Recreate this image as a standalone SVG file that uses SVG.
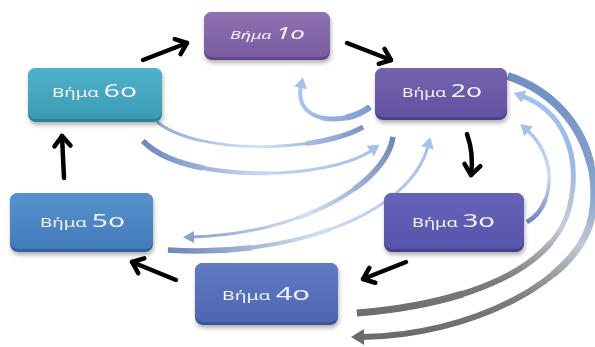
<svg xmlns="http://www.w3.org/2000/svg" xmlns:xlink="http://www.w3.org/1999/xlink" width="595" height="347" viewBox="0 0 595 347">
<style>
.lbl{font-family:"Noto Sans","Liberation Sans",sans-serif;fill:#f2f2f5}
.sm{font-size:12px}
.bg{font-size:18px}
.blk{fill:none;stroke:#000;stroke-width:4.5;stroke-linecap:round;marker-end:url(#chev)}
.L1{stroke-dasharray:28 1000}
.L2{stroke-dasharray:55 1000}
.arc{fill:none}
</style>
<defs>
<filter id="sh" x="-20%" y="-20%" width="140%" height="160%">
<feDropShadow dx="1" dy="3" stdDeviation="2" flood-color="#000" flood-opacity="0.3"/>
</filter>
<marker id="chev" markerUnits="userSpaceOnUse" markerWidth="30" markerHeight="30" viewBox="-15 -15 30 30" refX="0" refY="0" orient="auto" overflow="visible">
<path d="M-10,-8 L0,0 L-10,8" fill="none" stroke="#000" stroke-width="4.5" stroke-linecap="round" stroke-linejoin="round"/>
</marker>
<marker id="hL" markerUnits="userSpaceOnUse" markerWidth="24" markerHeight="24" viewBox="-12 -12 24 24" refX="0" refY="0" orient="auto" overflow="visible">
<path d="M-2,-6.5 L9,0 L-2,6.5 Z" fill="#a4c2ec"/>
</marker>
<marker id="hM" markerUnits="userSpaceOnUse" markerWidth="24" markerHeight="24" viewBox="-12 -12 24 24" refX="0" refY="0" orient="auto" overflow="visible">
<path d="M-2,-6 L9,0 L-2,6 Z" fill="#8aa2cc"/>
</marker>
<marker id="hG" markerUnits="userSpaceOnUse" markerWidth="24" markerHeight="24" viewBox="-12 -12 24 24" refX="0" refY="0" orient="auto" overflow="visible">
<path d="M-2,-8 L11,0 L-2,8 Z" fill="#6b6b6b"/>
</marker>
<linearGradient id="g1" gradientUnits="userSpaceOnUse" x1="370" y1="107" x2="301" y2="86"><stop offset="0" stop-color="#7f9dd0"/><stop offset="1" stop-color="#a8c7f0"/></linearGradient>
<linearGradient id="g2" gradientUnits="userSpaceOnUse" x1="363" y1="127" x2="157" y2="122"><stop offset="0" stop-color="#7a94c8"/><stop offset="0.5" stop-color="#d6e2f4"/><stop offset="1" stop-color="#8eaada"/></linearGradient>
<linearGradient id="g3" gradientUnits="userSpaceOnUse" x1="143" y1="141" x2="372" y2="150"><stop offset="0" stop-color="#6f86c0"/><stop offset="0.5" stop-color="#c6d6f0"/><stop offset="1" stop-color="#a4c2ec"/></linearGradient>
<linearGradient id="g4" gradientUnits="userSpaceOnUse" x1="393" y1="137" x2="192" y2="237"><stop offset="0" stop-color="#6f88bb"/><stop offset="0.5" stop-color="#d4dff0"/><stop offset="1" stop-color="#8aa2cc"/></linearGradient>
<linearGradient id="g5" gradientUnits="userSpaceOnUse" x1="168" y1="250" x2="428" y2="146"><stop offset="0" stop-color="#6e84b8"/><stop offset="0.5" stop-color="#d0ddf0"/><stop offset="1" stop-color="#a4c2ec"/></linearGradient>
<linearGradient id="g6" gradientUnits="userSpaceOnUse" x1="0" y1="76" x2="0" y2="337"><stop offset="0" stop-color="#7090c4"/><stop offset="0.45" stop-color="#88a4d0"/><stop offset="0.65" stop-color="#c2c8d4"/><stop offset="0.85" stop-color="#7e7e7e"/><stop offset="1" stop-color="#6b6b6b"/></linearGradient>
<linearGradient id="g7" gradientUnits="userSpaceOnUse" x1="0" y1="313" x2="0" y2="96"><stop offset="0" stop-color="#6e6e6e"/><stop offset="0.15" stop-color="#7c7c7c"/><stop offset="0.4" stop-color="#c6ccd8"/><stop offset="0.7" stop-color="#9ab8e4"/><stop offset="1" stop-color="#a4c2ec"/></linearGradient>
<linearGradient id="g8" gradientUnits="userSpaceOnUse" x1="0" y1="222" x2="0" y2="130"><stop offset="0" stop-color="#6a85bf"/><stop offset="0.5" stop-color="#d0dcef"/><stop offset="1" stop-color="#a6c4ee"/></linearGradient>
<linearGradient id="b1" x1="0" y1="0" x2="0" y2="1"><stop offset="0" stop-color="#9072b2"/><stop offset="1" stop-color="#7a5ca2"/></linearGradient>
<linearGradient id="b2" x1="0" y1="0" x2="0" y2="1"><stop offset="0" stop-color="#7463ae"/><stop offset="1" stop-color="#6352a0"/></linearGradient>
<linearGradient id="b3" x1="0" y1="0" x2="0" y2="1"><stop offset="0" stop-color="#6864ba"/><stop offset="1" stop-color="#5653aa"/></linearGradient>
<linearGradient id="b4" x1="0" y1="0" x2="0" y2="1"><stop offset="0" stop-color="#607bc4"/><stop offset="1" stop-color="#4e66b2"/></linearGradient>
<linearGradient id="b5" x1="0" y1="0" x2="0" y2="1"><stop offset="0" stop-color="#5693cd"/><stop offset="1" stop-color="#437aba"/></linearGradient>
<linearGradient id="b6" x1="0" y1="0" x2="0" y2="1"><stop offset="0" stop-color="#50b3ca"/><stop offset="1" stop-color="#3a9ab4"/></linearGradient>
<path id="p1" pathLength="100" d="M370,107 C342,128 293,122 301,86"/>
<path id="p2" pathLength="100" d="M363,127 C320,152 200,156 157,122"/>
<path id="p3" pathLength="100" d="M143,141 C185,185 330,180 372,150"/>
<path id="p4" pathLength="100" d="M393,137 C385,185 300,234 192,237"/>
<path id="p5" pathLength="100" d="M168,250 C290,258 410,215 428,146"/>
<path id="p6" pathLength="100" d="M508,76 C574,98 602,160 592,215 C582,280 470,336 362,337"/>
<path id="p7" pathLength="100" d="M357,313 C460,305 555,272 570,205 C582,150 560,110 522,96"/>
<path id="p8" pathLength="100" d="M527,222 C553,208 560,160 527,130"/>
</defs>
<rect width="595" height="347" fill="#ffffff"/>
<g id="connectors">
<g class="arc" stroke="url(#g1)"><use xlink:href="#p1" class="L1" stroke-width="6.5"/><use xlink:href="#p1" class="L2" stroke-width="5"/><use xlink:href="#p1" stroke-width="4" marker-end="url(#hL)"/></g>
<g class="arc" stroke="url(#g2)"><use xlink:href="#p2" class="L1" stroke-width="5"/><use xlink:href="#p2" stroke-width="3"/></g>
<g class="arc" stroke="url(#g3)"><use xlink:href="#p3" class="L1" stroke-width="5.5"/><use xlink:href="#p3" class="L2" stroke-width="4"/><use xlink:href="#p3" stroke-width="3" marker-end="url(#hL)"/></g>
<g class="arc" stroke="url(#g4)"><use xlink:href="#p4" class="L1" stroke-width="5.5"/><use xlink:href="#p4" class="L2" stroke-width="4"/><use xlink:href="#p4" stroke-width="3" marker-end="url(#hM)"/></g>
<g class="arc" stroke="url(#g5)"><use xlink:href="#p5" class="L1" stroke-width="5.5"/><use xlink:href="#p5" class="L2" stroke-width="4"/><use xlink:href="#p5" stroke-width="3" marker-end="url(#hL)"/></g>
<g class="arc" stroke="url(#g6)"><use xlink:href="#p6" class="L1" stroke-width="8"/><use xlink:href="#p6" class="L2" stroke-width="7"/><use xlink:href="#p6" stroke-width="6" marker-end="url(#hG)"/></g>
<g class="arc" stroke="url(#g7)"><use xlink:href="#p7" class="L1" stroke-width="7"/><use xlink:href="#p7" class="L2" stroke-width="6"/><use xlink:href="#p7" stroke-width="5" marker-end="url(#hL)"/></g>
<g class="arc" stroke="url(#g8)"><use xlink:href="#p8" class="L1" stroke-width="4.5"/><use xlink:href="#p8" stroke-width="3.5" marker-end="url(#hL)"/></g>
<path class="blk" d="M143,60 L187,43"/>
<path class="blk" d="M347,43 L391,60"/>
<path class="blk" d="M467,134 Q474,154 471,175"/>
<path class="blk" d="M406,262 L363,279"/>
<path class="blk" d="M176,280 L132,262"/>
<path class="blk" d="M64,178 L62,136"/>
</g>
<g id="step1" filter="url(#sh)">
<rect x="204" y="12" width="126" height="48" rx="8" fill="#624789"/>
<rect x="204" y="12" width="126" height="45" rx="8" fill="url(#b1)"/>
<text class="lbl" x="230" y="39" font-style="italic" textLength="75" lengthAdjust="spacingAndGlyphs"><tspan font-size="11px">Βήμα </tspan><tspan font-size="16px">1ο</tspan></text>
</g>
<g id="step2" filter="url(#sh)">
<rect x="375" y="68" width="132" height="52" rx="8" fill="#4f3f86"/>
<rect x="375" y="68" width="132" height="49" rx="8" fill="url(#b2)"/>
<text class="lbl" x="402" y="97" textLength="80" lengthAdjust="spacingAndGlyphs"><tspan class="sm">Βήμα </tspan><tspan class="bg">2ο</tspan></text>
</g>
<g id="step3" filter="url(#sh)">
<rect x="384" y="193" width="140" height="59" rx="8" fill="#43408e"/>
<rect x="384" y="193" width="140" height="56" rx="8" fill="url(#b3)"/>
<text class="lbl" x="412" y="227" textLength="83" lengthAdjust="spacingAndGlyphs"><tspan class="sm">Βήμα </tspan><tspan class="bg">3ο</tspan></text>
</g>
<g id="step4" filter="url(#sh)">
<rect x="195" y="263" width="143" height="62" rx="8" fill="#3d5296"/>
<rect x="195" y="263" width="143" height="59" rx="8" fill="url(#b4)"/>
<text class="lbl" x="222" y="300" textLength="88" lengthAdjust="spacingAndGlyphs"><tspan class="sm">Βήμα </tspan><tspan class="bg">4ο</tspan></text>
</g>
<g id="step5" filter="url(#sh)">
<rect x="10" y="193" width="143" height="59" rx="8" fill="#33629c"/>
<rect x="10" y="193" width="143" height="56" rx="8" fill="url(#b5)"/>
<text class="lbl" x="40" y="227" textLength="85" lengthAdjust="spacingAndGlyphs"><tspan class="sm">Βήμα </tspan><tspan class="bg">5ο</tspan></text>
</g>
<g id="step6" filter="url(#sh)">
<rect x="28" y="68" width="134" height="54" rx="8" fill="#2d8098"/>
<rect x="28" y="68" width="134" height="51" rx="8" fill="url(#b6)"/>
<text class="lbl" x="52" y="97" textLength="85" lengthAdjust="spacingAndGlyphs"><tspan class="sm">Βήμα </tspan><tspan class="bg">6ο</tspan></text>
</g>
</svg>
